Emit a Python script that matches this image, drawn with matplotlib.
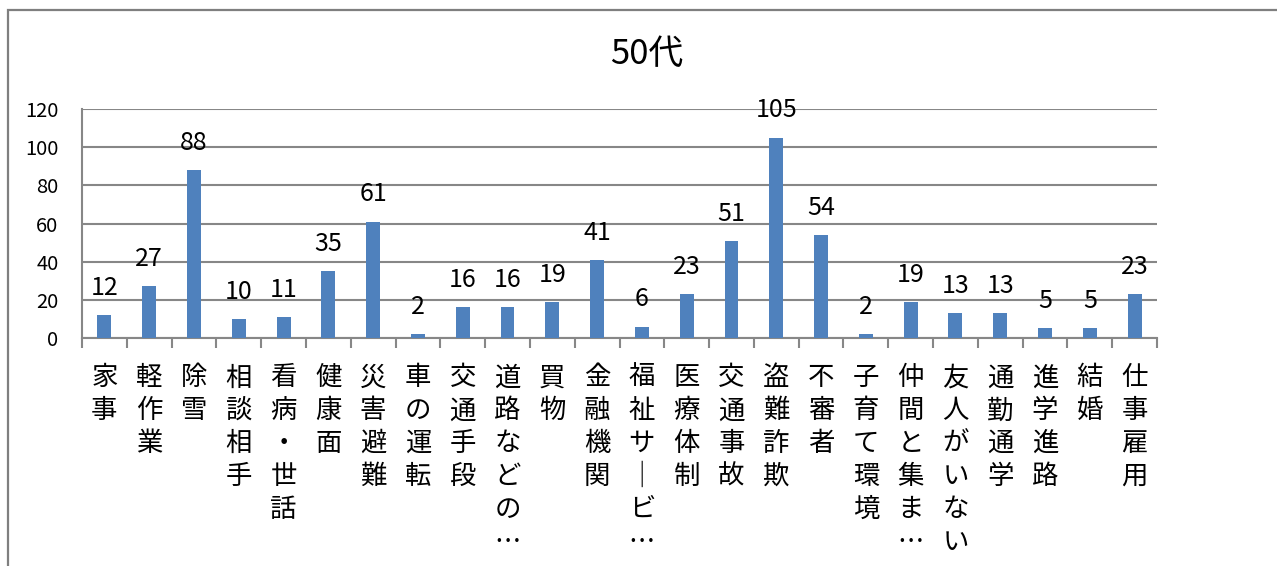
import matplotlib.pyplot as plt
import matplotlib.patches as patches
import numpy as np

plt.rcParams['font.family'] = ['Noto Sans CJK JP', 'DejaVu Sans']

title = "50代"
categories = ["家事", "軽作業", "除雪", "相談相手", "看病・世話", "健康面", "災害避難",
              "車の運転", "交通手段", "道路などの…", "買物", "金融機関", "福祉サービ…",
              "医療体制", "交通事故", "盗難詐欺", "不審者", "子育て環境", "仲間と集ま…",
              "友人がいない", "通勤通学", "進学進路", "結婚", "仕事雇用"]
counts = [12, 27, 88, 10, 11, 35, 61, 2, 16, 16, 19, 41, 6,
          23, 51, 105, 54, 2, 19, 13, 13, 5, 5, 23]
yticks = [0, 20, 40, 60, 80, 100, 120]

bar_color = "#4F81BD"
grid_color = "#878787"


def vertical(label):
    # stack characters top to bottom, long vowel mark turned upright
    return "\n".join(ch if ch != "ー" else "｜" for ch in label)


fig = plt.figure(figsize=(12.77, 5.66), dpi=100)
ax = fig.add_axes([82 / 1277, 1 - 338 / 566, (1157 - 82) / 1277, (338 - 109) / 566])

x = np.arange(len(categories))
ax.bar(x, counts, width=0.31, color=bar_color, zorder=3)

for xi, v in zip(x, counts):
    ax.annotate(str(v), (xi, v), xytext=(0, 14.5), textcoords="offset points",
                ha="center", va="baseline", fontsize=18, color="black", zorder=4)

ax.set_xlim(-0.5, len(categories) - 0.5)
ax.set_ylim(0, 120)
ax.set_yticks(yticks)
ax.set_yticklabels([str(t) for t in yticks], fontsize=14.5)
ax.tick_params(axis="y", length=0, pad=17)
ax.grid(axis="y", color=grid_color, linewidth=1.5, zorder=0)

ax.set_xticks(x)
ax.set_xticklabels([vertical(c) for c in categories], fontsize=19,
                   va="top", linespacing=1.28)
ax.set_xticks(np.arange(-0.5, len(categories), 1), minor=True)
ax.tick_params(axis="x", which="major", length=0, pad=19)
ax.tick_params(axis="x", which="minor", length=7, width=1.5, color=grid_color)

for side in ["top", "right"]:
    ax.spines[side].set_visible(False)
for side in ["left", "bottom"]:
    ax.spines[side].set_color(grid_color)
    ax.spines[side].set_linewidth(1.5)

fig.text(647 / 1277, 1 - 54 / 566, title, ha="center", va="center", fontsize=25)

# chart area border (runs off the right and bottom edges)
fig.patches.append(patches.Rectangle((7.5 / 1277, -0.2), 1.5, 1.2 - 9.5 / 566,
                                     transform=fig.transFigure, fill=False,
                                     edgecolor="#7f7f7f", linewidth=1.6))

fig.savefig("out.png", dpi=100)
